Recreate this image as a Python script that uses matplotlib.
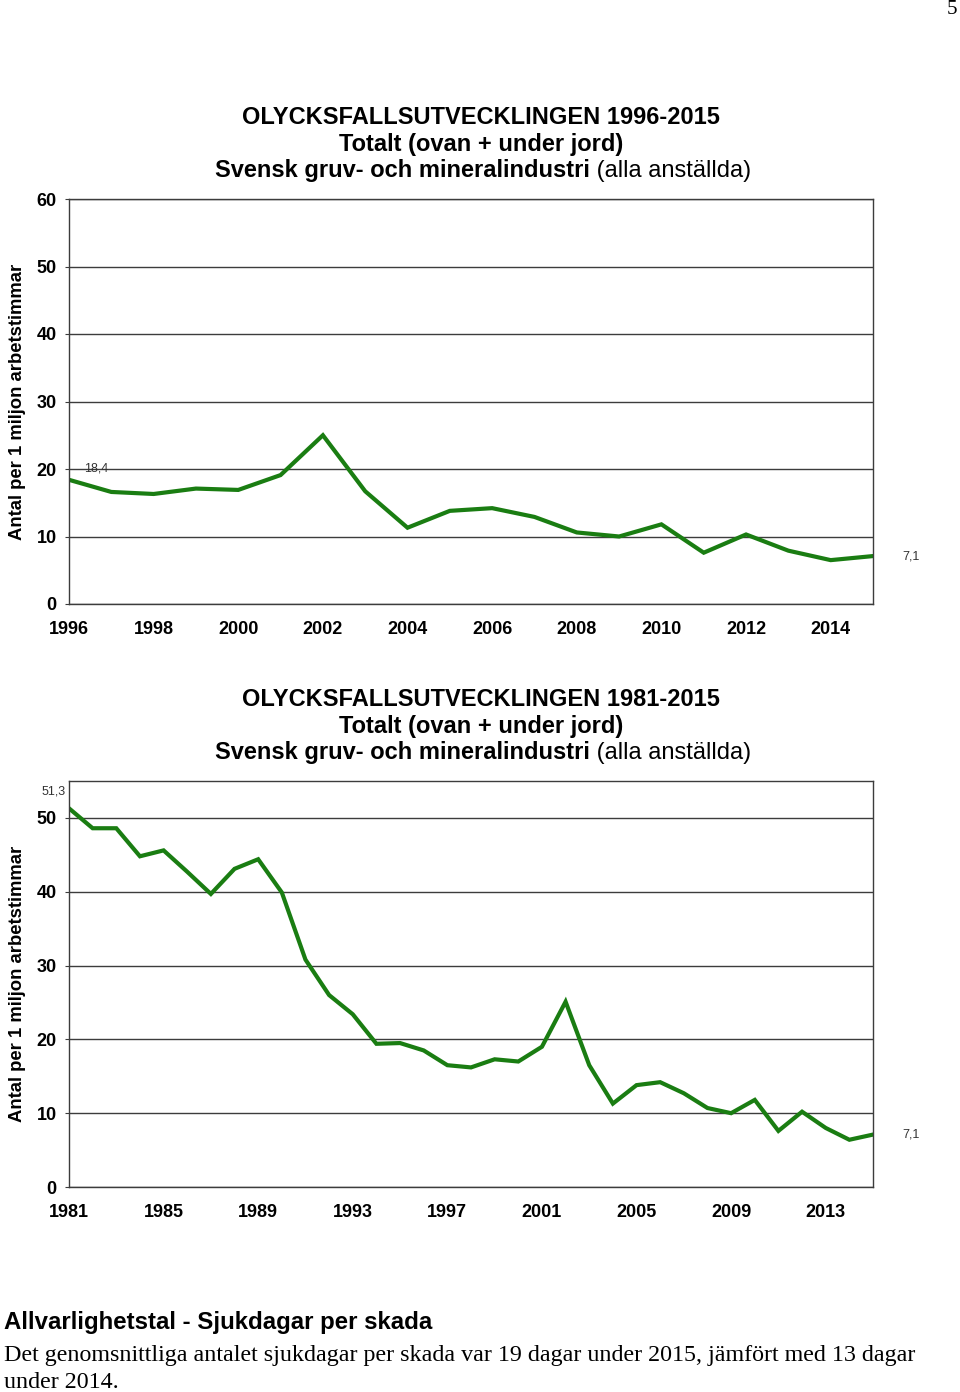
import numpy as np
import matplotlib.pyplot as plt

# Data
years_short = list(range(1996, 2016))
values_short = [18.4, 16.6, 16.3, 17.1, 16.9, 19.1, 25.0, 16.7, 11.3, 13.8,
                14.2, 12.9, 10.6, 10.0, 11.8, 7.6, 10.3, 7.9, 6.5, 7.1]

years_long = list(range(1981, 2016))
values_long = [51.3, 48.6, 48.6, 44.8, 45.6, 42.7, 39.7, 43.1, 44.4, 39.9,
               30.8, 26.0, 23.4, 19.4, 19.5, 18.5, 16.5, 16.2, 17.3, 17.0,
               19.0, 25.1, 16.5, 11.3, 13.8, 14.2, 12.7, 10.7, 10.0, 11.8,
               7.6, 10.2, 8.0, 6.4, 7.1]

ticks_short = list(range(1996, 2015, 2))
ticks_long = list(range(1981, 2015, 4))

title_line1 = ["OLYCKSFALLSUTVECKLINGEN 1996-2015", "OLYCKSFALLSUTVECKLINGEN 1981-2015"]
title_line2 = "Totalt (ovan + under jord)"
title_bold3 = "Svensk gruv- och mineralindustri"
title_norm3 = " (alla anställda)"
ylabel = "Antal per 1 miljon arbetstimmar"

green = "#1a7d12"
gridc = "#3c3c3c"
sans = "Liberation Sans"

fig = plt.figure(figsize=(9.6, 13.92), dpi=100)
W, H = 960, 1392


def px_box(left, top, right, bottom):
    return [left / W, 1 - bottom / H, (right - left) / W, (bottom - top) / H]


def draw_title(y_lines):
    fig.text(481 / W, 1 - y_lines[0] / H, y_lines[3], ha="center", va="center",
             fontsize=17, fontweight="bold", family=sans)
    fig.text(481 / W, 1 - y_lines[1] / H, title_line2, ha="center", va="center",
             fontsize=17, fontweight="bold", family=sans)
    # third line: bold part + normal part, centred together
    r = fig.canvas.get_renderer()
    tb = fig.text(0, 1 - y_lines[2] / H, title_bold3, ha="left", va="center",
                  fontsize=17, fontweight="bold", family=sans)
    tn = fig.text(0, 1 - y_lines[2] / H, title_norm3, ha="left", va="center",
                  fontsize=17, family=sans)
    wb = tb.get_window_extent(r).width
    wn = tn.get_window_extent(r).width
    x0 = 483 - (wb + wn) / 2
    tb.set_x(x0 / W)
    tn.set_x((x0 + wb) / W)


def style_axes(ax, ymax, yticks):
    ax.set_ylim(0, ymax)
    ax.set_yticks(yticks)
    ax.grid(axis="y", color=gridc, linewidth=1)
    ax.set_axisbelow(True)
    for s in ax.spines.values():
        s.set_color(gridc)
        s.set_linewidth(1)
    ax.tick_params(axis="y", length=3, color=gridc, labelsize=13, pad=6)
    ax.tick_params(axis="x", length=0, labelsize=13, pad=12)
    for lab in ax.get_xticklabels() + ax.get_yticklabels():
        lab.set_fontweight("bold")
        lab.set_family(sans)
    ax.set_ylabel(ylabel, fontsize=13.3, fontweight="bold", family=sans)
    ax.yaxis.set_label_coords(-0.053, 0.5)


# Top chart
ax1 = fig.add_axes(px_box(69, 199, 873, 604))
ax1.plot(years_short, values_short, color=green, linewidth=3, solid_joinstyle="miter")
ax1.set_xlim(years_short[0], years_short[-1])
ax1.set_xticks(ticks_short)
style_axes(ax1, 60, range(0, 61, 10))
ax1.annotate(f"{values_short[0]:.1f}".replace(".", ","), (years_short[0], values_short[0]),
             xytext=(11, 8), textcoords="offset points", fontsize=9, color="#333333",
             family=sans, va="center")
ax1.annotate(f"{values_short[-1]:.1f}".replace(".", ","), (years_short[-1], values_short[-1]),
             xytext=(21, 0), textcoords="offset points", fontsize=9, color="#333333",
             family=sans, va="center", annotation_clip=False)
draw_title([117, 144, 171, title_line1[0]])

# Bottom chart
ax2 = fig.add_axes(px_box(69, 781, 873, 1187))
ax2.plot(years_long, values_long, color=green, linewidth=3, solid_joinstyle="miter")
ax2.set_xlim(years_long[0], years_long[-1])
ax2.set_xticks(ticks_long)
style_axes(ax2, 55, range(0, 51, 10))
ax2.annotate(f"{values_long[0]:.1f}".replace(".", ","), (years_long[0], values_long[0]),
             xytext=(-11, 12), textcoords="offset points", fontsize=9, color="#333333",
             family=sans, ha="center", va="center", annotation_clip=False)
ax2.annotate(f"{values_long[-1]:.1f}".replace(".", ","), (years_long[-1], values_long[-1]),
             xytext=(21, 0), textcoords="offset points", fontsize=9, color="#333333",
             family=sans, va="center", annotation_clip=False)
draw_title([699, 726, 753, title_line1[1]])

# Page text
fig.text(952 / W, 1 - 10 / H, "5", ha="center", va="center", fontsize=15,
         family="Liberation Serif")
fig.text(4 / W, 1 - 1322 / H, "Allvarlighetstal - Sjukdagar per skada", ha="left",
         va="center", fontsize=17.3, fontweight="bold", family=sans)
fig.text(4 / W, 1 - 1356 / H,
         "Det genomsnittliga antalet sjukdagar per skada var 19 dagar under 2015, jämfört med 13 dagar",
         ha="left", va="center", fontsize=17.3, family="Liberation Serif")
fig.text(4 / W, 1 - 1383 / H, "under 2014.", ha="left", va="center", fontsize=17.3,
         family="Liberation Serif")

fig.savefig("out.png", dpi=100)
